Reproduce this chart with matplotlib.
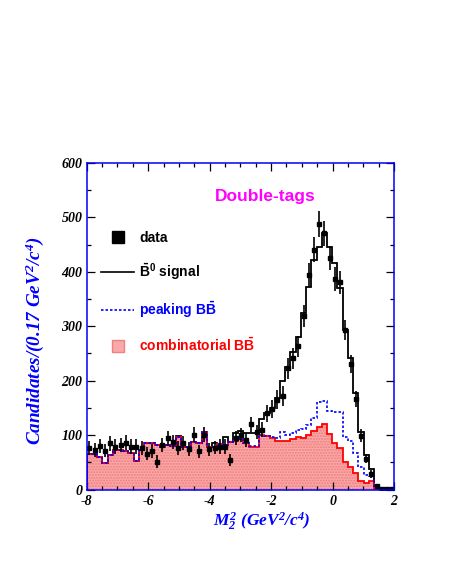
import numpy as np
import matplotlib
matplotlib.use('Agg')
import matplotlib.pyplot as plt
from matplotlib.lines import Line2D
from matplotlib.ticker import MultipleLocator

# ---------------- data ----------------
bin_lo = -8.0
bin_w = 0.17

# black: total (signal + peaking + combinatorial), stacked
total = [66, 66, 60, 48, 64, 73, 73, 70, 67, 52,
         72, 86, 86, 82, 79, 81, 80, 98, 79, 79,
         87, 86, 106, 79, 86, 83, 97, 88, 104, 107,
         103, 103, 103, 130, 140, 150, 169, 199, 226, 253,
         280, 324, 373, 422, 446, 471, 446, 416, 370, 293,
         241, 177, 106, 63, 37, 6, 2, 1, 1]
# blue dotted: peaking + combinatorial, stacked
peaking_stack = [66, 66, 60, 48, 64, 73, 73, 70, 67, 52,
                 72, 86, 86, 82, 79, 81, 80, 97, 79, 79,
                 87, 86, 105, 79, 79, 83, 82, 88, 90, 93,
                 85, 80, 80, 100, 99, 97, 94, 105, 100, 103,
                 110, 111, 118, 132, 160, 163, 145, 143, 142, 97,
                 90, 67, 41, 26, 24, 5, 0, 0, 0]
# red filled: combinatorial
combinatorial = [66, 66, 60, 48, 64, 73, 73, 70, 67, 52,
                 72, 86, 86, 82, 79, 81, 80, 97, 79, 79,
                 87, 86, 105, 79, 79, 83, 82, 88, 90, 92,
                 85, 79, 79, 100, 98, 94, 90, 90, 89, 93,
                 96, 95, 100, 108, 115, 120, 102, 85, 76, 51,
                 42, 30, 16, 12, 15, 0, 0, 0, 0]
data = [77, 72, 80, 71, 85, 79, 82, 86, 79, 79,
        76, 66, 71, 51, 82, 94, 88, 76, 86, 74,
        101, 70, 101, 74, 77, 79, 79, 54, 94, 100,
        91, 120, 106, 110, 140, 148, 165, 172, 223, 241,
        263, 319, 394, 441, 488, 471, 426, 387, 381, 293,
        231, 166, 99, 57, 28, 6, 1, 1, 1]
data_err = [13, 13, 13, 12, 14, 13, 13, 14, 13, 13,
            13, 12, 13, 12, 13, 14, 13, 13, 13, 13,
            14, 12, 14, 12, 12, 13, 13, 11, 13, 13,
            13, 14, 13, 14, 15, 16, 17, 18, 19, 19,
            20, 21, 22, 23, 24, 23, 22, 22, 21, 19,
            17, 15, 12, 9, 7, 4, 1, 1, 1]

x_ticks = [-8, -6, -4, -2, 0, 2]
y_ticks = [0, 100, 200, 300, 400, 500, 600]
legend_labels = ['data', r'$\mathbf{\bar{B}^0}$ signal',
                 r'peaking B$\mathbf{\bar{B}}$', r'combinatorial B$\mathbf{\bar{B}}$']

# ---------------- style ----------------
plt.rcParams['mathtext.fontset'] = 'custom'
plt.rcParams['mathtext.rm'] = 'Liberation Serif:bold:italic'
plt.rcParams['mathtext.it'] = 'Liberation Serif:bold:italic'
plt.rcParams['mathtext.bf'] = 'Liberation Sans:bold'
plt.rcParams['axes.unicode_minus'] = False

n = len(total)
edges = bin_lo + bin_w * np.arange(n + 1)
centers = 0.5 * (edges[:-1] + edges[1:])

fig = plt.figure(figsize=(4.52, 5.85), dpi=100)
ax = fig.add_axes([0.1918, 0.1632, 0.680, 0.5581])

pink = '#f8aaaa'
ax.stairs(combinatorial, edges, fill=True, facecolor=pink, edgecolor='#f27a7a',
          linewidth=0, hatch='......', zorder=1)
ax.stairs(total, edges, color='black', linewidth=1.3, zorder=2)
ax.stairs(combinatorial, edges, color='red', linewidth=1.3, zorder=3)
ax.stairs(peaking_stack, edges, color='blue', linewidth=1.2,
          linestyle=(0, (1.5, 1.2)), zorder=4)
ax.errorbar(centers, data, yerr=data_err, fmt='s', color='black', markersize=3.2,
            elinewidth=1.2, capsize=0, zorder=5)

ax.set_xlim(-8, 2)
ax.set_ylim(0, 600)
ax.set_xticks(x_ticks)
ax.set_yticks(y_ticks)
ax.xaxis.set_minor_locator(MultipleLocator(0.5))
ax.yaxis.set_minor_locator(MultipleLocator(50))
ax.tick_params(which='both', direction='in', top=True, right=True, color='black')
ax.tick_params(which='major', length=6, width=0.9)
ax.tick_params(which='minor', length=3, width=0.9)
ax.tick_params(axis='y', pad=3)
ax.tick_params(axis='x', pad=4)
for lbl in ax.get_xticklabels() + ax.get_yticklabels():
    lbl.set_fontfamily('Liberation Serif')
    lbl.set_fontweight('bold')
    lbl.set_fontstyle('italic')
    lbl.set_fontsize(10)

for sp in ax.spines.values():
    sp.set_color('blue')
    sp.set_linewidth(1.1)
    sp.set_zorder(10)

lab_kw = dict(color='blue', fontfamily='Liberation Serif', fontweight='bold',
              fontstyle='italic')
ax.set_ylabel('Candidates/(0.17 GeV$^2$/c$^4$)', fontsize=13.8, **lab_kw)
ax.yaxis.set_label_coords(-0.132, 0.455)
ax.set_xlabel('$M_2^2$ (GeV$^2$/c$^4$)', fontsize=12.5, **lab_kw)
ax.xaxis.set_label_coords(0.571, -0.066)

ax.text(0.58, 0.896, 'Double-tags', transform=ax.transAxes, ha='center',
        va='center', color='#ff00ff', fontsize=12.5, fontweight='bold',
        fontfamily='Liberation Sans')

handles = [
    Line2D([], [], marker='s', color='black', linestyle='none', markersize=8),
    Line2D([], [], color='black', linewidth=1.2),
    Line2D([], [], color='blue', linewidth=1.2, linestyle=(0, (1.5, 1.2))),
    Line2D([], [], marker='s', linestyle='none', markersize=8,
           markerfacecolor=pink, markeredgecolor='#f08080'),
]
leg = ax.legend(handles, legend_labels, loc='upper left',
                bbox_to_anchor=(0.0465, 0.793), borderaxespad=0, borderpad=0,
                frameon=False, handlelength=2.4, handletextpad=0.35,
                labelspacing=1.22,
                labelcolor=['black', 'black', 'blue', 'red'],
                prop=dict(family='Liberation Sans', weight='bold', size=10))

fig.savefig('out.png', dpi=100)
